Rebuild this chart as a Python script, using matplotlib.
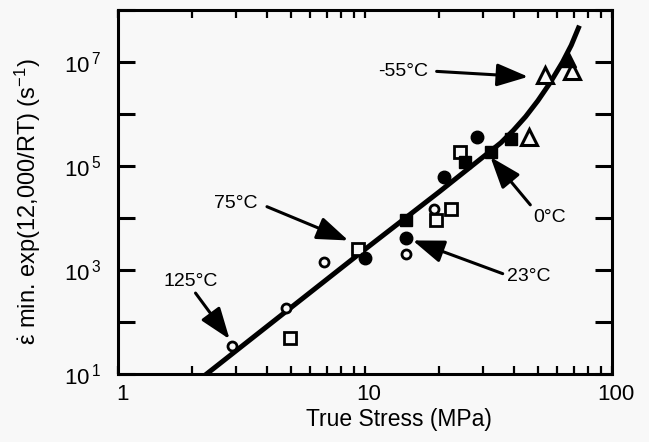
import matplotlib
matplotlib.use('Agg')
import matplotlib.pyplot as plt
from matplotlib.patches import ArrowStyle
from matplotlib.ticker import NullFormatter, NullLocator, FixedLocator, FixedFormatter
from matplotlib.transforms import ScaledTranslation

plt.rcParams['font.family'] = 'Liberation Sans'
plt.rcParams['mathtext.fontset'] = 'custom'
plt.rcParams['mathtext.rm'] = 'Liberation Sans'
plt.rcParams['mathtext.it'] = 'Liberation Sans'
plt.rcParams['mathtext.bf'] = 'Liberation Sans:bold'

# data (stress in MPa, normalised rate in 1/s)
open_circle_x = [2.9, 4.8, 6.8, 14.6, 19.0]
open_circle_y = [34, 190, 1450, 2050, 15000]
open_square_x = [4.97, 9.4, 19.3, 22.2, 24.3]
open_square_y = [50, 2500, 9300, 15000, 190000]
filled_circle_x = [10.0, 14.6, 20.8, 28.3]
filled_circle_y = [1700, 4100, 61000, 360000]
filled_square_x = [14.6, 25.5, 32.4, 39.1]
filled_square_y = [9300, 120000, 190000, 335000]
open_tri_x = [46.2, 53.3, 68.7]
open_tri_y = [365000, 5.7e6, 6.6e6]
filled_tri_x = [66.5]
filled_tri_y = [1.15e7]

# fitted curve, points
fit_x = [2.2, 10, 20, 31.6, 35.5, 39.8, 44.7, 50.1, 56.2, 63.1, 68.4, 73.8]
fit_y = [8.7, 2500, 3.2e4, 1.8e5, 2.8e5, 4.8e5, 8.9e5, 1.8e6, 4.0e6, 1.0e7, 2.1e7, 5.0e7]

# temperature labels: text position, arrow start, arrow tip
labels = ['125°C', '75°C', '-55°C', '0°C', '23°C']
label_pos = [(1.97, 600), (3.01, 18700), (14.3, 6.6e6), (56, 1.0e4), (46.2, 740)]
arrow_from = [(2.06, 360), (4.01, 16500), (19.5, 6.6e6), (46.7, 17900), (36.1, 850)]
arrow_to = [(2.83, 46.7), (8.56, 3700), (45.8, 5.2e6), (32.2, 1.49e5), (15.6, 3700)]

bg = '#f8f8f8'
fig = plt.figure(figsize=(6.49, 4.42), dpi=100, facecolor=bg)
ax = fig.add_axes([118/649, 1-374/442, 494/649, 364/442], facecolor=bg)
ax.set_xscale('log')
ax.set_yscale('log')
ax.set_xlim(1, 100)
ax.set_ylim(10, 1e8)

ax.plot(fit_x, fit_y, color='k', lw=3.6, solid_capstyle='butt', zorder=2)

ax.plot(open_circle_x, open_circle_y, 'o', ms=6.5, mfc=bg, mec='k', mew=2, zorder=3)
ax.plot(open_square_x, open_square_y, 's', ms=8, mfc=bg, mec='k', mew=2, zorder=3)
ax.plot(filled_circle_x, filled_circle_y, 'o', ms=9, color='k', zorder=3)
ax.plot(filled_square_x, filled_square_y, 's', ms=9, color='k', zorder=3)
ax.plot(open_tri_x, open_tri_y, '^', ms=11, mfc=bg, mec='k', mew=2.2, zorder=3)
ax.plot(filled_tri_x, filled_tri_y, '^', ms=11, color='k', zorder=3)

head = ArrowStyle('-|>', head_length=0.55, head_width=0.2)
for txt, p, a, b in zip(labels, label_pos, arrow_from, arrow_to):
    ax.text(p[0], p[1], txt, ha='center', va='center', fontsize=14, zorder=4)
    ax.annotate('', xy=b, xytext=a,
                arrowprops=dict(arrowstyle=head, lw=2.2, color='k',
                                mutation_scale=35, shrinkA=0, shrinkB=0),
                zorder=4)

# ticks
ax.set_xticks([1, 10, 100])
ax.set_xticklabels(['1', '10', '100'])
ax.xaxis.set_minor_formatter(NullFormatter())
yt = [10.0**k for k in range(1, 9)]
ax.yaxis.set_major_locator(FixedLocator(yt))
ax.yaxis.set_major_formatter(FixedFormatter(
    [r'$10^{\,%d}$' % k if k % 2 == 1 else '' for k in range(1, 9)]))
ax.yaxis.set_minor_locator(NullLocator())

ax.tick_params(axis='x', which='both', direction='in', length=6, width=1.6,
               top=True, labelsize=16, pad=7)
ax.tick_params(axis='y', which='major', direction='in', length=12, width=2.2,
               right=True, labelsize=16, pad=12)
for lab in ax.get_xticklabels():
    lab.set_transform(lab.get_transform() + ScaledTranslation(4/100, 0, fig.dpi_scale_trans))

for s in ax.spines.values():
    s.set_linewidth(2.2)

ax.set_xlabel('True Stress (MPa)', fontsize=16.5)
ax.xaxis.set_label_coords(0.569, -0.094)
ax.set_ylabel(r'$\dot{\varepsilon}$ min. exp(12,000/RT) (s$^{-1}$)', fontsize=17)
ax.yaxis.set_label_coords(-0.152, 0.475)

fig.savefig('out.png', dpi=100, facecolor=bg)
